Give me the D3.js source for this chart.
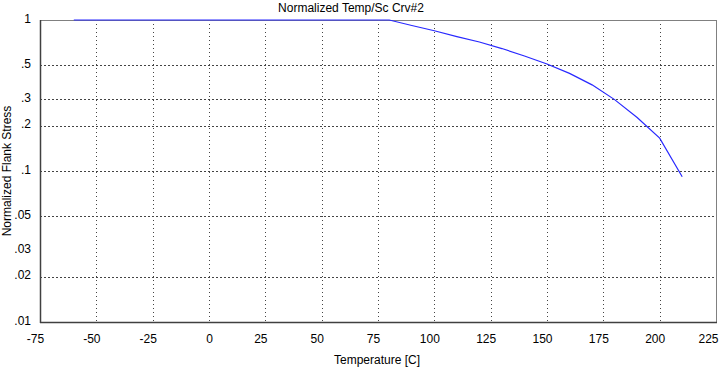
<!DOCTYPE html>
<html><head><meta charset="utf-8">
<script src="https://cdn.jsdelivr.net/npm/d3@7"></script>
<style>
body{margin:0;background:#fff;}
text{font-family:"Liberation Sans",Arial,sans-serif;font-size:12px;fill:#000;}
</style></head>
<body>
<svg id="c" width="719" height="368"></svg>
<script>
const temps  = [-60, 80, 90, 100, 110, 120, 130, 140, 150, 160, 170, 180, 190, 200, 210];
const stress = [1, 1, 0.92, 0.849, 0.777, 0.715, 0.647, 0.578, 0.511, 0.443, 0.372, 0.297, 0.226, 0.165, 0.0917];
const xTicks = [-75, -50, -25, 0, 25, 50, 75, 100, 125, 150, 175, 200, 225];
const yTicks = [1, 0.5, 0.3, 0.2, 0.1, 0.05, 0.03, 0.02, 0.01];
const yTickLabels = ["1", ".5", ".3", ".2", ".1", ".05", ".03", ".02", ".01"];
const yGrid = [0.5, 0.3, 0.2, 0.1, 0.05, 0.02];
const title = "Normalized Temp/Sc Crv#2";
const xTitle = "Temperature [C]";
const yTitle = "Normalized Flank Stress";

const L = 40, R = 716, T = 20, B = 322;
const svg = d3.select("#c");
const x = d3.scaleLinear().domain([-75, 225]).range([L, R]);
const y = d3.scaleLog().domain([0.01, 1]).range([B, T]);

// grid
const g = svg.append("g");
g.selectAll("line.v").data(xTicks.slice(1, -1)).enter().append("line")
  .attr("x1", d => Math.round(x(d)) + 0.5).attr("x2", d => Math.round(x(d)) + 0.5)
  .attr("y1", T).attr("y2", B)
  .attr("stroke", "#444").attr("stroke-width", 1).attr("stroke-dasharray", "1,3");
g.selectAll("line.h").data(yGrid).enter().append("line")
  .attr("y1", d => Math.round(y(d)) + 0.5).attr("y2", d => Math.round(y(d)) + 0.5)
  .attr("x1", L).attr("x2", R)
  .attr("stroke", "#444").attr("stroke-width", 1).attr("stroke-dasharray", "2,2");

// frame
svg.append("rect").attr("x", L + 0.5).attr("y", T + 0.5).attr("width", R - L).attr("height", B - T)
  .attr("fill", "none").attr("stroke", "#808080").attr("stroke-width", 1);
svg.append("line").attr("x1", L + 0.5).attr("x2", L + 0.5).attr("y1", T).attr("y2", B + 1)
  .attr("stroke", "#404040").attr("stroke-width", 1.5);
svg.append("line").attr("x1", L).attr("x2", R + 1).attr("y1", B + 0.5).attr("y2", B + 0.5)
  .attr("stroke", "#404040").attr("stroke-width", 1.5);

// data line
const line = d3.line().x((d, i) => x(temps[i])).y(d => y(d));
svg.append("path").datum(stress).attr("d", line)
  .attr("fill", "none").attr("stroke", "#2828ff").attr("stroke-width", 1.2);

// axes labels (via D3 axes, domain/ticks hidden)
const xa = svg.append("g").attr("transform", `translate(0,${B + 9})`)
  .call(d3.axisBottom(x).tickValues(xTicks).tickSize(0).tickFormat(d => String(d)));
xa.select(".domain").remove();
xa.selectAll("text").style("font-family", "Liberation Sans, Arial, sans-serif").style("font-size", "12px").attr("fill", "#000")
  .attr("dx", d => d === 225 ? 2 : (d === 0 ? 0 : -5))
  .attr("text-anchor", d => d === 225 ? "end" : "middle");

const ya = svg.append("g").attr("transform", `translate(${L - 6},0)`)
  .call(d3.axisLeft(y).tickValues(yTicks).tickSize(0).tickFormat((d, i) => yTickLabels[i]));
ya.select(".domain").remove();
ya.selectAll("text").style("font-family", "Liberation Sans, Arial, sans-serif").style("font-size", "12px").attr("fill", "#000").attr("dy", "0.2em");

svg.append("text").attr("x", 351).attr("y", 12).attr("text-anchor", "middle").text(title);
svg.append("text").attr("x", 377).attr("y", 364).attr("text-anchor", "middle").text(xTitle);
svg.append("text").attr("transform", `translate(11,${(T + B) / 2}) rotate(-90)`).attr("text-anchor", "middle").text(yTitle);
</script>
</body></html>
